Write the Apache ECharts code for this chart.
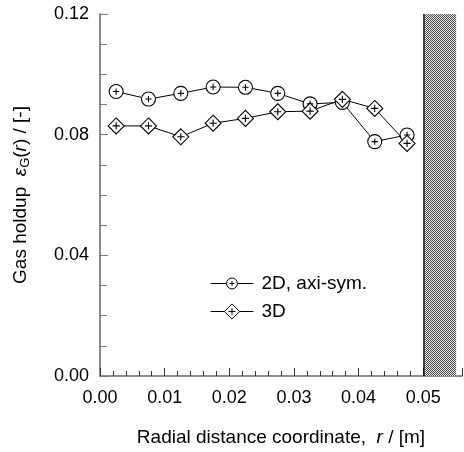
<!DOCTYPE html>
<html>
<head>
<meta charset="utf-8">
<script src="https://cdn.jsdelivr.net/npm/echarts@6/dist/echarts.min.js"></script>
<style>html,body{margin:0;padding:0;background:#fff}#c{width:464px;height:452px}</style>
</head>
<body>
<div id="c"></div>
<script>
var radius = [0.0025, 0.0075, 0.0125, 0.0175, 0.0225, 0.0275, 0.0325, 0.0375, 0.0425, 0.0475];
var holdup2D = [0.0943, 0.0918, 0.0937, 0.0958, 0.0957, 0.0937, 0.0902, 0.0907, 0.0777, 0.0799];
var holdup3D = [0.0829, 0.0829, 0.0793, 0.0838, 0.0854, 0.0876, 0.0878, 0.0917, 0.0887, 0.0771];
var seriesNames = ['2D, axi-sym.', '3D'];
var wallRange = [0.0503, 0.0551];
var wallLine = 0.05015;

function pairs(xs, ys) { return xs.map(function (x, i) { return [x, ys[i]]; }); }

var pc = document.createElement('canvas');
pc.width = 4; pc.height = 4;
var g = pc.getContext('2d');
g.fillStyle = '#e0e0e0'; g.fillRect(0, 0, 4, 4);
g.fillStyle = '#505050';
for (var yy = 0; yy < 4; yy++) for (var xx = 0; xx < 4; xx++) if ((xx + yy) % 2 === 0) g.fillRect(xx, yy, 1, 1);

var FONT = 'Liberation Sans, Arial, sans-serif';
// circle path has an invisible wider box so that its legend icon comes out smaller than the diamond
var circleSym = 'path://M0,-14 M0,14 M-14,0 M14,0 M0,-10 A10,10 0 1,1 0,10 A10,10 0 1,1 0,-10 Z M-4.5,0 L4.5,0 M0,-4.5 L0,4.5';
var diamondSym = 'path://M0,-10 L10,0 L0,10 L-10,0 Z M-4.5,0 L4.5,0 M0,-4.5 L0,4.5';

var chart = echarts.init(document.getElementById('c'));
chart.setOption({
  animation: false,
  backgroundColor: '#fff',
  grid: { left: 100, top: 14, right: 2, bottom: 76, containLabel: false },
  legend: {
    orient: 'vertical', left: 205, top: 269, itemWidth: 43, itemHeight: 19, itemGap: 9,
    lineStyle: { width: 1 },
    itemStyle: { borderWidth: 1 },
    textStyle: { fontFamily: FONT, fontSize: 19, color: '#000', padding: [0, 0, 0, 3] },
    data: seriesNames
  },
  xAxis: {
    type: 'value', min: 0, max: 0.056, interval: 0.01,
    name: 'Radial distance coordinate,  {i|r} / [m]',
    nameLocation: 'middle', nameGap: 52,
    nameTextStyle: { fontFamily: FONT, fontSize: 19, color: '#000',
      rich: { i: { fontFamily: FONT, fontSize: 19, fontStyle: 'italic', color: '#000' } } },
    axisLine: { lineStyle: { color: '#8c8c8c', width: 2 } },
    axisTick: { inside: true, length: 8, lineStyle: { color: '#333' } },
    minorTick: { show: true, splitNumber: 5, length: 5, lineStyle: { color: '#333' } },
    splitLine: { show: false },
    axisLabel: { fontFamily: FONT, fontSize: 18, color: '#000', margin: 13, showMaxLabel: false,
      formatter: function (v) { return v.toFixed(2); } }
  },
  yAxis: {
    type: 'value', min: 0, max: 0.12, interval: 0.04,
    name: 'Gas holdup  {e|ε}{sub|G}({i|r}) / [-]',
    nameLocation: 'middle', nameGap: 68, nameRotate: 90,
    nameTextStyle: { fontFamily: FONT, fontSize: 19, color: '#000',
      rich: {
        e: { fontFamily: FONT, fontSize: 19, fontStyle: 'italic', color: '#000' },
        sub: { fontFamily: FONT, fontSize: 13, color: '#000', padding: [9, 0, 0, 0] },
        i: { fontFamily: FONT, fontSize: 19, fontStyle: 'italic', color: '#000' }
      } },
    axisLine: { lineStyle: { color: '#8c8c8c', width: 2 } },
    axisTick: { inside: true, length: 8, lineStyle: { color: '#777' } },
    minorTick: { show: true, splitNumber: 4, length: 7, lineStyle: { color: '#777' } },
    splitLine: { show: false },
    axisLabel: { fontFamily: FONT, fontSize: 18, color: '#000', margin: 11,
      formatter: function (v) { return v.toFixed(2); } }
  },
  series: [
    {
      name: seriesNames[0], type: 'line', data: pairs(radius, holdup2D),
      symbol: circleSym, symbolSize: 19.6, showAllSymbol: true,
      lineStyle: { color: '#000', width: 1 },
      itemStyle: { color: '#fff', borderColor: '#000', borderWidth: 1.1 },
      markArea: {
        silent: true,
        itemStyle: { color: { image: pc, repeat: 'repeat' } },
        data: [[{ xAxis: wallRange[0], yAxis: 0 }, { xAxis: wallRange[1], yAxis: 0.12 }]]
      },
      markLine: {
        silent: true, symbol: 'none', label: { show: false },
        lineStyle: { color: '#000', width: 1.5, type: 'solid' },
        data: [[{ coord: [wallLine, 0] }, { coord: [wallLine, 0.12] }]]
      }
    },
    {
      name: seriesNames[1], type: 'line', data: pairs(radius, holdup3D),
      symbol: diamondSym, symbolSize: 16, showAllSymbol: true,
      lineStyle: { color: '#000', width: 1 },
      itemStyle: { color: '#fff', borderColor: '#000', borderWidth: 1.1 }
    }
  ]
});
</script>
</body>
</html>
